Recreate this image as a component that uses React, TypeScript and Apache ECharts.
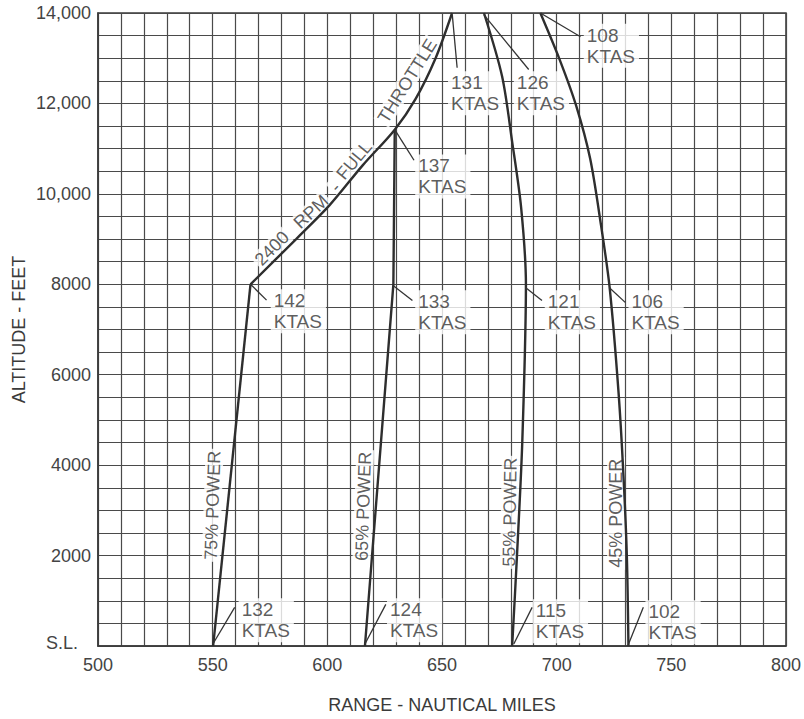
import React, { useEffect, useRef } from "react";
import * as echarts from "echarts";

// ---- Data (range in nautical miles, altitude in feet) ----
const xTicks = [500, 550, 600, 650, 700, 750, 800];
const yTicks = [0, 2000, 4000, 6000, 8000, 10000, 12000, 14000];

const power75 = [[550.2, 0], [566.5, 8000]];
const fullThrottle = [
  [566.5, 8000], [586.4, 9000], [601, 9750], [615.4, 10630],
  [629.4, 11420], [638.5, 12100], [647.2, 13000], [654.4, 14000],
];
const power65 = [[616.4, 0], [628.8, 8000], [629.4, 11420]];
const power55 = [
  [680.6, 0], [682.7, 2000], [685, 4500], [686.6, 8000],
  [684.5, 9700], [680.6, 11150], [676.2, 12600], [668.3, 14000],
];
const power45 = [
  [731.3, 0], [730.6, 2000], [729.1, 3800], [727, 5600], [723.1, 7930],
  [719.3, 9320], [714.6, 10780], [708.5, 11950], [701.3, 12970], [692.9, 14000],
];

// KTAS annotations: value, label anchor (left-middle), leader from -> to
const ktasValues = [132, 124, 115, 102, 142, 133, 121, 106, 137, 131, 126, 108];
const ktasAnchors = [
  [561.3, 570], [626, 570], [689.6, 548], [738.7, 526],
  [575.3, 7406], [638.3, 7384], [694.8, 7384], [731.3, 7384],
  [638.3, 10386], [652.6, 12226], [681.3, 12226], [711.8, 13278],
];
const leaders = [
  [[550.1, 44], [559.6, 855]],
  [[616.4, 44], [625.5, 920]],
  [[681.3, 44], [689.3, 855]],
  [[731, 0], [737.8, 855]],
  [[566.5, 8000], [573.5, 7650]],
  [[628.8, 7970], [637.1, 7640]],
  [[686.4, 7930], [693.6, 7640]],
  [[722.9, 7930], [729.9, 7600]],
  [[629.4, 11420], [637.8, 10743]],
  [[654.5, 13957], [656.6, 12790]],
  [[668.3, 13957], [687.8, 12750]],
  [[692.9, 14000], [710.4, 13475]],
];

// Curve captions (centre positions + rotation in degrees)
const captionTexts = ["75% POWER", "65% POWER", "55% POWER", "45% POWER", "2400", "RPM", "-", "FULL", "THROTTLE"];
const captionPos = [
  [550, 3111], [615.7, 3090], [679.6, 2958], [725.9, 2936],
  [575.8, 8793], [592.9, 9604], [603.5, 10150], [611.7, 10743], [634.9, 12496],
];
const captionRotate = [88, 88, 89, 90, 45, 43, 47, 50, 58];

const FONT = "'Liberation Sans', Arial, Helvetica, sans-serif";
const INK = "#2e2e2e";
const GRID = "#4a4a4a";

export default function App() {
  const ref = useRef<HTMLDivElement>(null);
  useEffect(() => {
    if (!ref.current) return;
    const chart = echarts.init(ref.current, null, { renderer: "svg" });
    const curveSeries = (data: number[][], smooth: number) => ({
      type: "line",
      data,
      showSymbol: false,
      symbol: "none",
      smooth,
      lineStyle: { color: INK, width: 2.4 },
      z: 7,
      silent: true,
    });
    const option: any = {
      animation: false,
      backgroundColor: "#ffffff",
      textStyle: { fontFamily: FONT },
      grid: {
        left: 98, right: 16, top: 13, bottom: 67,
        show: true, borderColor: "#3a3a3a", borderWidth: 1.5,
      },
      xAxis: {
        type: "value",
        min: xTicks[0], max: xTicks[xTicks.length - 1], interval: 50,
        name: "RANGE - NAUTICAL MILES",
        nameLocation: "middle", nameGap: 50,
        nameMoveOverlap: false,
        nameTextStyle: { fontSize: 18, color: "#3a3a3a", fontFamily: FONT },
        axisLine: { show: true, lineStyle: { color: "#3a3a3a", width: 1.5 } },
        axisTick: { show: false },
        axisLabel: { fontSize: 18, color: "#444", margin: 10, fontFamily: FONT },
        splitLine: { show: true, lineStyle: { color: GRID, width: 1.2 } },
        minorTick: { show: false, splitNumber: 5 },
        minorSplitLine: { show: true, lineStyle: { color: GRID, width: 1.2 } },
      },
      yAxis: {
        type: "value",
        min: yTicks[0], max: yTicks[yTicks.length - 1], interval: 2000,
        name: "ALTITUDE - FEET",
        nameLocation: "middle", nameGap: 70,
        nameMoveOverlap: false,
        nameTextStyle: { fontSize: 18, color: "#3a3a3a", fontFamily: FONT },
        axisLine: { show: true, lineStyle: { color: "#3a3a3a", width: 1.5 } },
        axisTick: { show: false },
        axisLabel: {
          fontSize: 18, color: "#444", margin: 7, fontFamily: FONT,
          formatter: (v: number) =>
            v === 0 ? "{sl|S.L.}" : v >= 10000 ? v.toLocaleString("en-US") : String(v),
          rich: {
            sl: { fontSize: 18, color: "#444", fontFamily: FONT, padding: [0, 13, 6, 0] },
          },
        },
        splitLine: { show: true, lineStyle: { color: GRID, width: 1.2 } },
        minorTick: { show: false, splitNumber: 4 },
        minorSplitLine: { show: true, lineStyle: { color: GRID, width: 1.2 } },
      },
      series: [
        curveSeries(power75, 0),
        curveSeries(fullThrottle, 0.3),
        curveSeries(power65, 0),
        curveSeries(power55, 0.3),
        curveSeries(power45, 0.3),
        {
          type: "scatter",
          symbolSize: 0.1,
          itemStyle: { color: "rgba(0,0,0,0)" },
          silent: true,
          z: 5,
          data: ktasValues.map((v, i) => ({ value: ktasAnchors[i], name: `${v}\nKTAS` })),
          label: {
            show: true,
            position: "right",
            distance: 0,
            formatter: (p: any) => p.name,
            fontSize: 19,
            lineHeight: 21,
            color: "#333",
            fontFamily: FONT,
            align: "left",
            backgroundColor: "#ffffff",
            padding: [1, 4, 1, 3],
          },
        },
        {
          type: "scatter",
          symbolSize: 0.1,
          itemStyle: { color: "rgba(0,0,0,0)" },
          silent: true,
          z: 5,
          data: captionTexts.map((t, i) => ({
            value: captionPos[i],
            name: t,
            label: { rotate: captionRotate[i] },
          })),
          label: {
            show: true,
            position: "inside",
            formatter: (p: any) => p.name,
            fontSize: 18,
            color: "#333",
            fontFamily: FONT,
            align: "center",
            verticalAlign: "middle",
            backgroundColor: "#ffffff",
            padding: [0, 2],
          },
        },
        {
          type: "lines",
          coordinateSystem: "cartesian2d",
          silent: true,
          z: 8,
          lineStyle: { color: "#333", width: 1.3, opacity: 1 },
          data: leaders.map((c) => ({ coords: c })),
        },
      ],
    };
    chart.setOption(option);
    return () => chart.dispose();
  }, []);
  return (
    <div
      ref={ref}
      style={{ position: "fixed", left: 0, top: 0, width: 804, height: 719 }}
    />
  );
}
